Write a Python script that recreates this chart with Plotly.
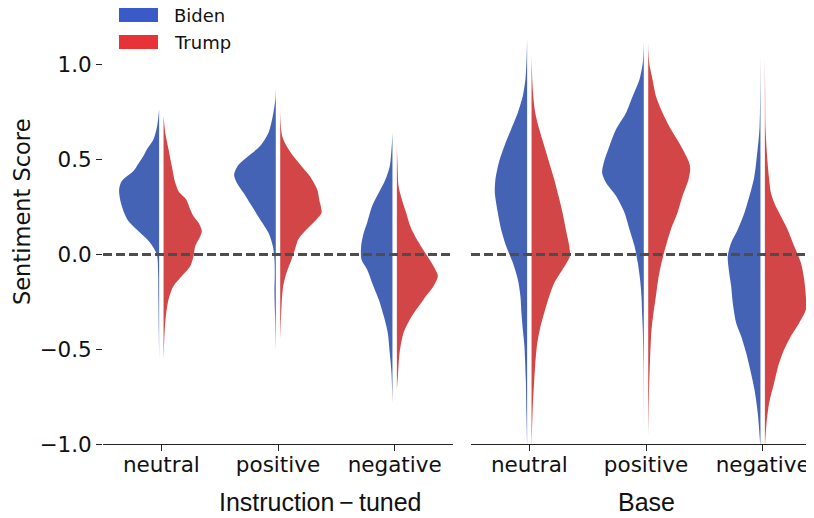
import plotly.graph_objects as go

# ---- data --------------------------------------------------------------
CATEGORIES = ["neutral", "positive", "negative"]
PANELS = ["Instruction\u2009\u2212\u2009tuned", "Base"]
CANDIDATES = ["Biden", "Trump"]

# Kernel density profiles: y levels (sentiment score) and relative density
# (half-width) for each panel / category / candidate.
INST_NEUTRAL_BIDEN_Y = [0.765, 0.677, 0.607, 0.554, 0.519, 0.466, 0.44, 0.387, 0.343, 0.29, 0.22, 0.176, 0.114, 0.062, 0.0, -0.097, -0.237, -0.413, -0.554]
INST_NEUTRAL_BIDEN_D = [0, 2, 5.7, 12.3, 15.7, 22.3, 25.7, 37.3, 40, 39, 35, 30.7, 19, 9, 2.3, 1, 0.7, 0.3, 0]
INST_NEUTRAL_TRUMP_Y = [0.73, 0.642, 0.554, 0.466, 0.378, 0.334, 0.29, 0.237, 0.202, 0.167, 0.123, 0.088, 0.044, -0.009, -0.062, -0.114, -0.167, -0.237, -0.325, -0.413, -0.554]
INST_NEUTRAL_TRUMP_D = [0, 1.7, 5, 8.3, 11.7, 15, 22.7, 26.7, 30, 35, 38.3, 36, 31.7, 30, 26.7, 18.3, 10, 5, 2.3, 1, 0]

INST_POSITIVE_BIDEN_Y = [0.88, 0.818, 0.73, 0.642, 0.572, 0.519, 0.466, 0.422, 0.378, 0.325, 0.255, 0.185, 0.114, 0.044, -0.026, -0.097, -0.202, -0.325, -0.5]
INST_POSITIVE_BIDEN_D = [0, 0.5, 3, 7.3, 15.7, 27.3, 38.3, 41.7, 39, 32.3, 24, 15.7, 7.3, 3, 1.3, 1, 1.3, 0.7, 0]
INST_POSITIVE_TRUMP_Y = [0.756, 0.677, 0.624, 0.572, 0.519, 0.466, 0.413, 0.343, 0.29, 0.22, 0.185, 0.132, 0.079, 0.026, -0.026, -0.097, -0.167, -0.273, -0.449]
INST_POSITIVE_TRUMP_D = [0, 0.7, 2, 6.3, 13, 21.3, 29.7, 37, 39, 41.3, 36.3, 26.3, 18, 14.7, 11.3, 6.3, 3, 1.3, 0]

INST_NEGATIVE_BIDEN_Y = [0.642, 0.572, 0.466, 0.396, 0.325, 0.255, 0.167, 0.114, 0.044, -0.026, -0.079, -0.15, -0.237, -0.325, -0.413, -0.519, -0.624, -0.783]
INST_NEGATIVE_BIDEN_D = [0, 0.7, 2.7, 7, 13.7, 20.3, 25.3, 28.7, 31.3, 31, 25.3, 20.3, 13.7, 8.7, 4.7, 2.7, 1, 0]
INST_NEGATIVE_TRUMP_Y = [0.572, 0.466, 0.36, 0.29, 0.22, 0.15, 0.079, 0.009, -0.062, -0.114, -0.167, -0.237, -0.325, -0.413, -0.519, -0.642, -0.712]
INST_NEGATIVE_TRUMP_D = [0, 0.7, 1.7, 5, 9.3, 13.3, 20, 28.3, 36.7, 41, 36.7, 26.7, 15, 6.7, 2.7, 1, 0]

BASE_NEUTRAL_BIDEN_Y = [1.135, 1.011, 0.923, 0.836, 0.748, 0.66, 0.572, 0.484, 0.396, 0.325, 0.22, 0.132, 0.044, -0.044, -0.132, -0.22, -0.308, -0.396, -0.484, -0.66, -0.836, -1.02]
BASE_NEUTRAL_BIDEN_D = [0, 0.7, 1.7, 4.3, 9.3, 16, 22.7, 28.3, 31.7, 32.3, 29.3, 26, 21, 14.3, 9.3, 6.7, 5.7, 4.3, 2.7, 1.3, 0.7, 0]
BASE_NEUTRAL_TRUMP_Y = [1.047, 0.923, 0.836, 0.748, 0.66, 0.572, 0.484, 0.396, 0.308, 0.22, 0.132, 0.044, -0.009, -0.079, -0.15, -0.22, -0.308, -0.396, -0.484, -0.66, -0.836, -1.02]
BASE_NEUTRAL_TRUMP_D = [0, 0.7, 1.7, 3.7, 7.7, 12.7, 17.7, 22.7, 27, 31, 34.3, 37.7, 38.3, 31, 22.7, 17.7, 12.7, 8.3, 5.3, 2.7, 1, 0]

BASE_POSITIVE_BIDEN_Y = [1.117, 1.011, 0.923, 0.836, 0.748, 0.66, 0.572, 0.484, 0.431, 0.378, 0.308, 0.22, 0.132, 0.044, -0.044, -0.132, -0.22, -0.308, -0.396, -0.572, -0.923]
BASE_POSITIVE_BIDEN_D = [0, 1, 4.3, 11, 17.7, 27.7, 34.3, 40, 41.7, 37.7, 27.7, 19.3, 14.3, 9.3, 6, 3.7, 2.3, 1.7, 1, 0.3, 0]
BASE_POSITIVE_TRUMP_Y = [1.117, 1.011, 0.923, 0.836, 0.748, 0.66, 0.572, 0.484, 0.449, 0.396, 0.308, 0.22, 0.132, 0.044, -0.044, -0.132, -0.22, -0.308, -0.396, -0.572, -0.748, -0.958]
BASE_POSITIVE_TRUMP_D = [0, 1, 4.3, 7.7, 14.3, 22.7, 32.7, 41, 42, 40.3, 34.3, 29.3, 22.7, 17.7, 13.3, 10, 7.7, 5.3, 3.3, 1.7, 0.7, 0]

BASE_NEGATIVE_BIDEN_Y = [1.047, 0.836, 0.66, 0.484, 0.396, 0.308, 0.22, 0.132, 0.062, -0.009, -0.079, -0.167, -0.255, -0.361, -0.431, -0.519, -0.607, -0.712, -0.836, -0.994, -1.02]
BASE_NEGATIVE_BIDEN_D = [0, 0.3, 1, 4.3, 6.7, 11, 16, 22.7, 29.3, 32.7, 31.7, 29.3, 27.7, 24.3, 19.3, 14.3, 10.3, 6, 2.7, 0.3, 0]
BASE_NEGATIVE_TRUMP_Y = [1.047, 0.836, 0.66, 0.484, 0.396, 0.325, 0.273, 0.202, 0.132, 0.044, -0.044, -0.132, -0.22, -0.29, -0.361, -0.431, -0.501, -0.572, -0.677, -0.783, -0.888, -0.994, -1.02]
BASE_NEGATIVE_TRUMP_D = [0, 0.3, 0.7, 2.7, 4.3, 6, 9.3, 16, 22.7, 29.3, 36, 39.3, 41, 41, 34.3, 26, 19.3, 14.3, 9.3, 4.3, 1.7, 0.3, 0]

PROFILES = {
    (0, "neutral", "Biden"): (INST_NEUTRAL_BIDEN_Y, INST_NEUTRAL_BIDEN_D),
    (0, "neutral", "Trump"): (INST_NEUTRAL_TRUMP_Y, INST_NEUTRAL_TRUMP_D),
    (0, "positive", "Biden"): (INST_POSITIVE_BIDEN_Y, INST_POSITIVE_BIDEN_D),
    (0, "positive", "Trump"): (INST_POSITIVE_TRUMP_Y, INST_POSITIVE_TRUMP_D),
    (0, "negative", "Biden"): (INST_NEGATIVE_BIDEN_Y, INST_NEGATIVE_BIDEN_D),
    (0, "negative", "Trump"): (INST_NEGATIVE_TRUMP_Y, INST_NEGATIVE_TRUMP_D),
    (1, "neutral", "Biden"): (BASE_NEUTRAL_BIDEN_Y, BASE_NEUTRAL_BIDEN_D),
    (1, "neutral", "Trump"): (BASE_NEUTRAL_TRUMP_Y, BASE_NEUTRAL_TRUMP_D),
    (1, "positive", "Biden"): (BASE_POSITIVE_BIDEN_Y, BASE_POSITIVE_BIDEN_D),
    (1, "positive", "Trump"): (BASE_POSITIVE_TRUMP_Y, BASE_POSITIVE_TRUMP_D),
    (1, "negative", "Biden"): (BASE_NEGATIVE_BIDEN_Y, BASE_NEGATIVE_BIDEN_D),
    (1, "negative", "Trump"): (BASE_NEGATIVE_TRUMP_Y, BASE_NEGATIVE_TRUMP_D),
}

# ---- styling -----------------------------------------------------------
OFF = 8                     # page body margin in the browser
W, H = 814 - OFF, 518 - OFF
VIOLIN_COLORS = {"Biden": "#4463b5", "Trump": "#d34647"}
LEGEND_COLORS = {"Biden": "#3a5ac8", "Trump": "#e73338"}
DENS_SCALE = 1 / 116.7   # density unit -> category axis units
GAP = 0.019              # half gap between the two halves
FONT = "DejaVu Sans"
TITLE_FONT = "Liberation Sans"


def px_x(p):
    return (p - OFF) / W


def px_y(p):
    return 1 - (p - OFF) / H


fig = go.Figure()

for panel in range(2):
    xa = "x" if panel == 0 else "x2"
    for ci, cat in enumerate(CATEGORIES):
        for cand in CANDIDATES:
            ys, ds = PROFILES[(panel, cat, cand)]
            sign = -1 if cand == "Biden" else 1
            inner = ci + sign * GAP
            xs = [inner + sign * d * DENS_SCALE for d in ds]
            fig.add_trace(go.Scatter(
                x=xs, y=ys, xaxis=xa, yaxis="y",
                mode="lines", fill="toself",
                fillcolor=VIOLIN_COLORS[cand],
                line=dict(width=0, shape="spline", smoothing=0.8,
                          color=VIOLIN_COLORS[cand]),
                name=cand, showlegend=False, hoverinfo="skip",
            ))

# dashed zero lines
for xr in ["x domain", "x2 domain"]:
    fig.add_shape(type="line", xref=xr, yref="y", x0=0, x1=1, y0=0, y1=0,
                  line=dict(color="#4d4d4d", width=3, dash="9px,4px"),
                  layer="above")

axis_common = dict(
    showgrid=False, zeroline=False, showline=True, linecolor="#222222",
    linewidth=1.3, ticks="outside", ticklen=6, tickwidth=1.2,
    tickcolor="#222222", tickfont=dict(family=FONT, size=21.5, color="#111111"),
    automargin=False,
)

fig.update_layout(
    template="none",
    width=W, height=H,
    margin=dict(l=0, r=0, t=0, b=0),
    paper_bgcolor="white", plot_bgcolor="white",
    showlegend=False,
    xaxis=dict(axis_common, domain=[px_x(103), px_x(453)], range=[-0.5, 2.5],
               tickvals=[0, 1, 2], ticktext=CATEGORIES, anchor="y",
               ticklabelstandoff=-5),
    xaxis2=dict(axis_common, domain=[px_x(471), 1.0], range=[-0.5, 2.44],
                tickvals=[0, 1, 2], ticktext=CATEGORIES, anchor="y",
                ticklabelstandoff=-5),
    yaxis=dict(axis_common, showline=False, domain=[px_y(444), px_y(27)],
               range=[-1.0, 1.2], tickvals=[-1, -0.5, 0, 0.5, 1],
               tickformat=".1f", ticklabelstandoff=0),
)

# axis titles
fig.add_annotation(text="Sentiment Score", xref="paper", yref="paper",
                   x=px_x(22), y=px_y(212), textangle=-90, showarrow=False,
                   xanchor="center", yanchor="middle",
                   font=dict(family=FONT, size=22.5, color="#111111"))
for name, cx in zip(PANELS, [320, 646]):
    fig.add_annotation(text=name, xref="paper", yref="paper",
                       x=px_x(cx), y=px_y(502), showarrow=False,
                       xanchor="center", yanchor="middle",
                       font=dict(family=TITLE_FONT, size=25, color="#111111"))

# legend
for i, cand in enumerate(CANDIDATES):
    top = 8 + i * 27
    fig.add_shape(type="rect", xref="paper", yref="paper",
                  x0=px_x(119), x1=px_x(158), y0=px_y(top + 14), y1=px_y(top),
                  fillcolor=LEGEND_COLORS[cand], line=dict(width=0))
    fig.add_annotation(text=cand, xref="paper", yref="paper",
                       x=px_x(173), y=px_y(top + 8), xanchor="left",
                       yanchor="middle", showarrow=False, borderpad=0,
                       font=dict(family=FONT, size=18, color="#111111"))

fig.write_html("out.html")
